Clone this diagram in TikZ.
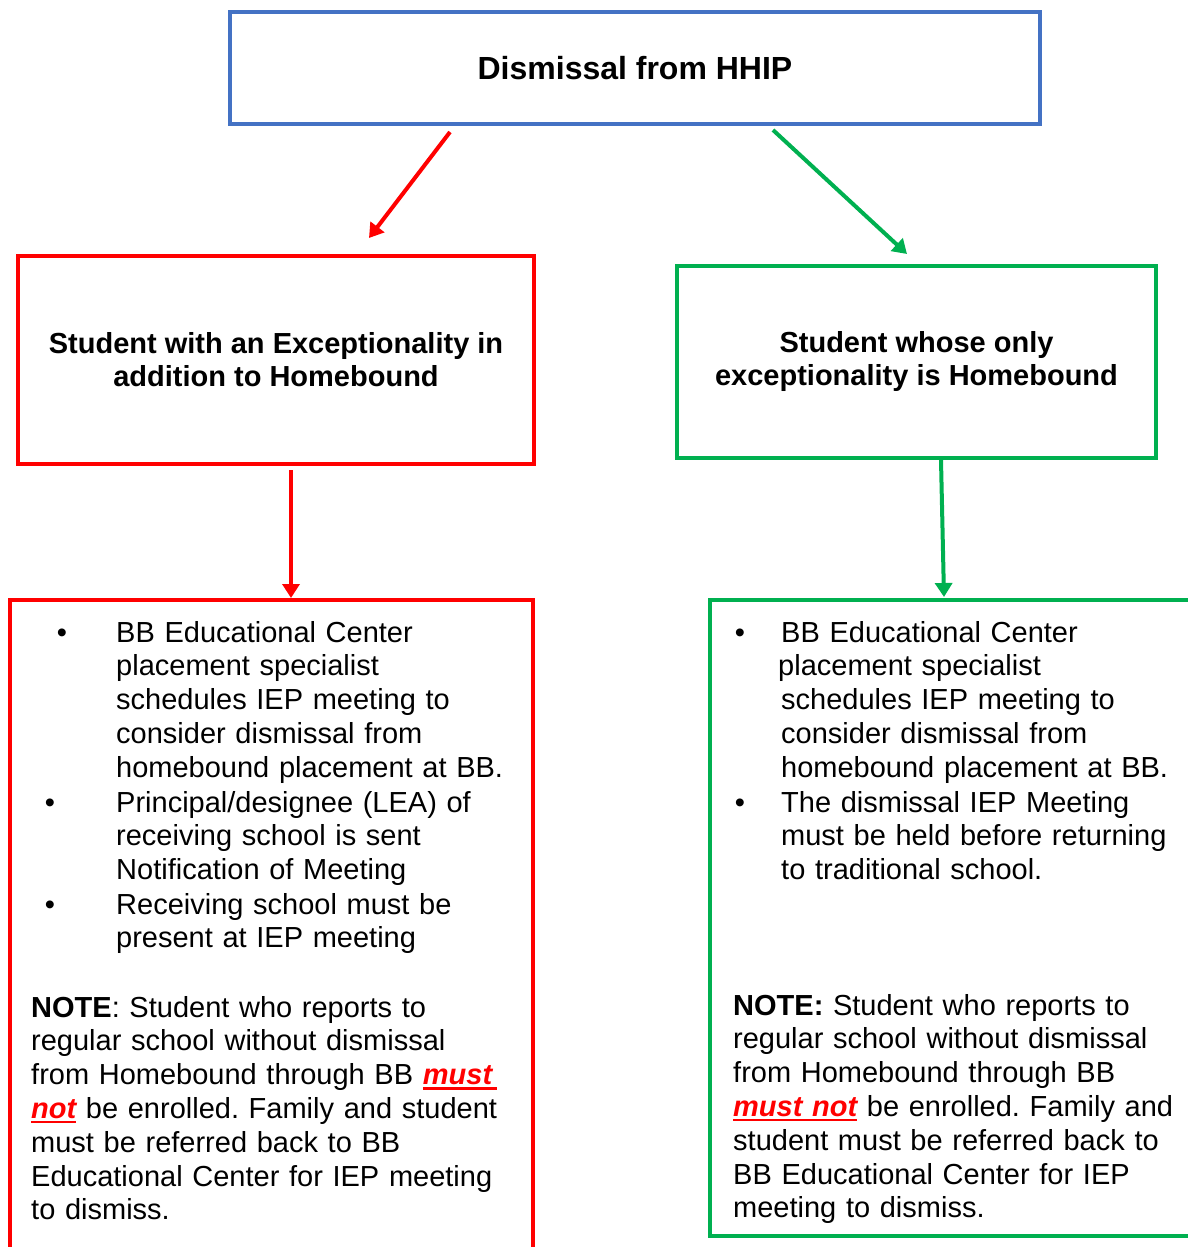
\documentclass[tikz,border=0pt]{standalone}
\usepackage{fontspec}
\setmainfont{Liberation Sans}
\usetikzlibrary{arrows.meta}
\definecolor{hhipblue}{HTML}{4472C4}
\definecolor{hhipred}{HTML}{FF0000}
\definecolor{hhipgreen}{HTML}{00B050}
\newsavebox\warnbox
\newcommand\warnword[1]{\leavevmode\sbox\warnbox{\color{hhipred}\bfseries\itshape #1}\rlap{\color{hhipred}\rule[-5pt]{\wd\warnbox}{2.5pt}}\usebox\warnbox}
\frenchspacing

\begin{document}
\begin{tikzpicture}[x=1pt,y=-1pt,
	bluebox/.style={draw=hhipblue,line width=4pt,outer sep=0pt},
	redbox/.style={draw=hhipred,line width=4pt,outer sep=0pt},
	greenbox/.style={draw=hhipgreen,line width=4pt,outer sep=0pt},
	redarr/.style={hhipred,line width=4pt,-{Triangle[length=14pt,width=17pt]}},
	greenarr/.style={hhipgreen,line width=4pt,-{Triangle[length=14pt,width=17pt]}},
	headtxt/.style={font=\fontsize{29}{33}\selectfont\bfseries,align=center},
	bodytxt/.style={font=\fontsize{29}{33.8}\selectfont,text width=520pt,align=left,inner sep=0pt,anchor=base west},
	bulletmark/.style={font=\fontsize{29}{33.8}\selectfont,inner sep=0pt,anchor=base}]
				%%%%% START %%%%%
				\def\rx{116}
				\def\gx{781}
				\def\yone{642}
				\def\ytwo{812}
				\def\ythree{914}
				
				\useasboundingbox (0,0) rectangle (1188,1247);
				
				\node[bluebox,headtxt,font=\fontsize{32}{36}\selectfont\bfseries,minimum width=810pt,minimum height=112pt] (top) at (635,68) {Dismissal from HHIP};
				\node[redbox,headtxt,minimum width=516pt,minimum height=208pt] (redmid) at (276,360) {Student with an Exceptionality in\\addition to Homebound};
				\node[greenbox,headtxt,minimum width=479pt,minimum height=192pt] (greenmid) at (916.5,361.5) {Student whose only\\exceptionality is Homebound};
				\node[redbox,anchor=north west,minimum width=523pt,minimum height=680pt] (redlow) at (10,600) {};
				\node[greenbox,anchor=north west,minimum width=490pt,minimum height=636pt] (greenlow) at (710,600) {};
				
				\draw[redarr] ([shift={(-185,8)}]top.south) -- ([shift={(93,-18)}]redmid.north);
				\draw[greenarr] ([shift={(138,6)}]top.south) -- ([shift={(-9.5,-11.5)}]greenmid.north);
				\draw[redarr] ([shift={(15,6)}]redmid.south) -- ([shift={(19.5,-2)}]redlow.north);
				\draw[greenarr] ([shift={(24.5,2.5)}]greenmid.south) -- ([shift={(-11,-3)}]greenlow.north);
				
				% left column
				\node[bulletmark] (rdot1) at (62,\yone) {\textbullet};
				\node[bulletmark] (rdot2) at (50,\ytwo) {\textbullet};
				\node[bulletmark] (rdot3) at (50,\ythree) {\textbullet};
				\node[bodytxt] (ritem1) at (\rx,\yone) {BB Educational Center\\placement specialist\\schedules IEP meeting to\\consider dismissal from\\homebound placement at BB.};
				\node[bodytxt] (ritem2) at (\rx,\ytwo) {Principal/designee (LEA) of\\receiving school is sent\\Notification of Meeting};
				\node[bodytxt] (ritem3) at (\rx,\ythree) {Receiving school must be\\present at IEP meeting};
				\node[bodytxt] (rnote) at (31,1017) {\textbf{NOTE}: Student who reports to\\regular school without dismissal\\from Homebound through BB \warnword{must\hspace{5pt}}\\\warnword{not} be enrolled. Family and student\\must be referred back to BB\\Educational Center for IEP meeting\\to dismiss.};
				
				% right column
				\node[bulletmark] (gdot1) at (740,\yone) {\textbullet};
				\node[bulletmark] (gdot2) at (740,\ytwo) {\textbullet};
				\node[bodytxt] (gitem1) at (\gx,\yone) {BB Educational Center\\\hspace*{-3pt}placement specialist\\schedules IEP meeting to\\consider dismissal from\\homebound placement at BB.};
				\node[bodytxt] (gitem2) at (\gx,\ytwo) {The dismissal IEP Meeting\\must be held before returning\\to traditional school.};
				\node[bodytxt] (gnote) at (733,1015) {\textbf{NOTE:} Student who reports to\\regular school without dismissal\\from Homebound through BB\\\warnword{must not} be enrolled. Family and\\student must be referred back to\\BB Educational Center for IEP\\meeting to dismiss.};
				%%%%% END %%%%%
\end{tikzpicture}
\end{document}
